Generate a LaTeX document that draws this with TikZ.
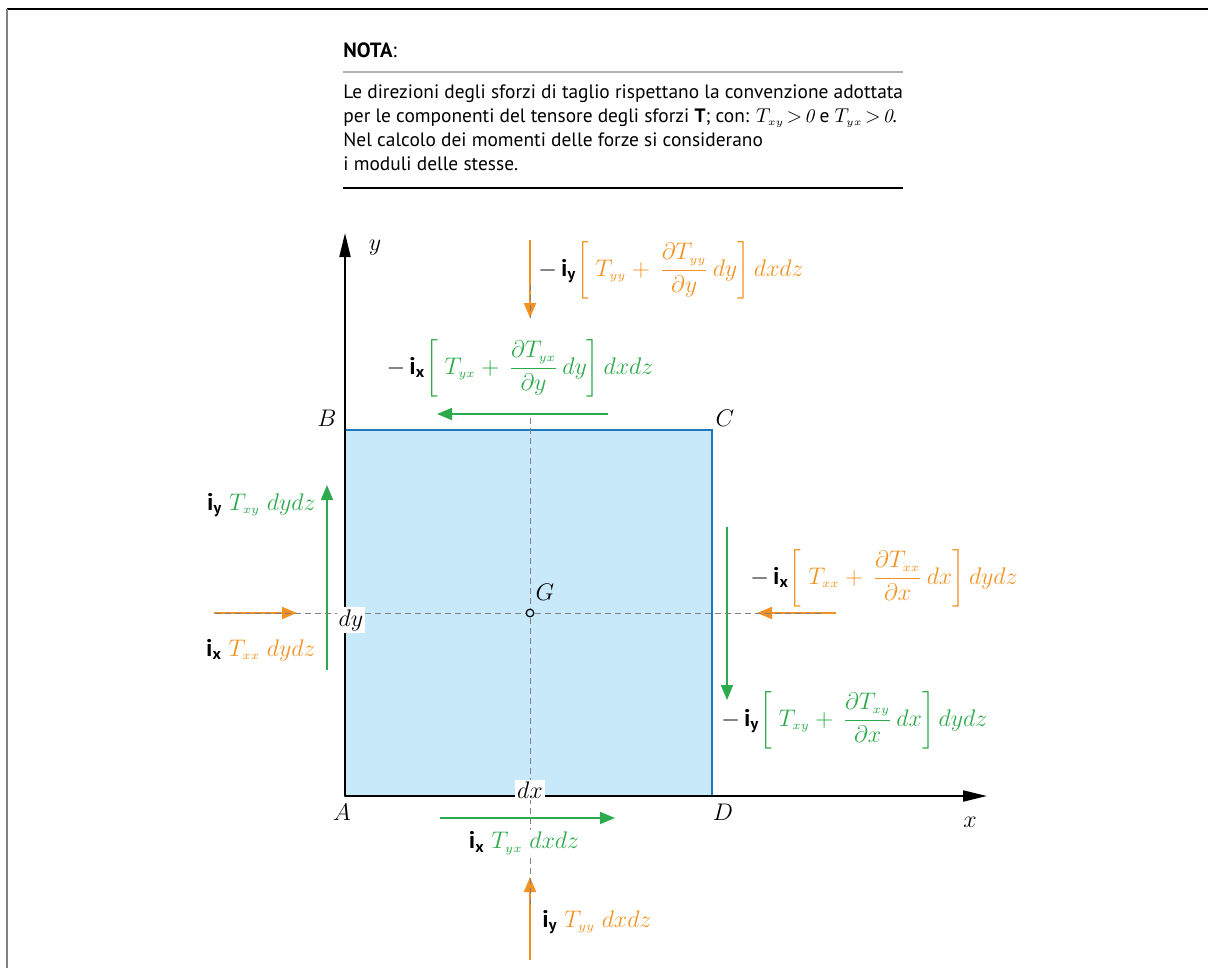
\documentclass[tikz,border=0pt]{standalone}
\usepackage{amsmath}
\usepackage{fontspec}
\setsansfont{PT Sans}
\usetikzlibrary{arrows.meta,positioning}
\definecolor{forzaor}{RGB}{243,146,34}
\definecolor{forzagr}{RGB}{45,170,75}
\definecolor{cubo}{RGB}{199,233,249}
\definecolor{bordo}{RGB}{30,120,190}
\newcommand{\vers}[1]{\textsf{\textbf{i}}_{\textsf{\textbf{#1}}}}
\newcommand{\Tc}[1]{T_{\scriptscriptstyle #1}}
\tikzset{frecciaor/.style={-{Triangle[length=7.5pt,width=6pt]},line width=0.9pt,draw=forzaor},
 frecciagr/.style={-{Triangle[length=7.5pt,width=6pt]},line width=0.9pt,draw=forzagr},
 asse/.style={-{Triangle[length=12pt,width=5.5pt]},line width=1pt},
 mezzeria/.style={draw=gray,dash pattern=on 3pt off 2pt,line width=0.5pt},
 etich/.style={font=\fontsize{12}{15}\selectfont,inner sep=1pt},
 coperta/.style={etich,fill=white},
 punto/.style={font=\fontsize{12}{15}\selectfont,inner sep=1pt},
 nota/.style={font=\sffamily\fontsize{9.7}{12}\selectfont,align=left,inner sep=0pt}}

\begin{document}
\begin{tikzpicture}[x=0.5pt,y=-0.5pt]
\useasboundingbox (0,0) rectangle (1208,968);
\draw[line width=0.9pt] (7,9) -- (1208,9);
\draw[gray,line width=1.1pt] (7,9) -- (7,968);

% nota
\node[nota,anchor=south west,font=\sffamily\fontsize{10.3}{12}\selectfont] (titolo) at (343,58) {\textbf{NOTA}:};
\draw[gray!60,line width=0.7pt] (343,72) -- (903,72);
\node[nota,anchor=north west] (testo) at (343,84) {Le direzioni degli sforzi di taglio rispettano la convenzione adottata\\
per le componenti del tensore degli sforzi \textbf{T}; con: $\Tc{xy}\!>\!\mathit{0}$ e $\Tc{yx}\!>\!\mathit{0}$.\\
Nel calcolo dei momenti delle forze si considerano\\
i moduli delle stesse.};
\draw[line width=1.1pt] (343,188) -- (903,188);

% elemento
\coordinate (A) at (345,796);
\coordinate (B) at (345,430);
\coordinate (C) at (712,430);
\coordinate (D) at (712,796);
\coordinate (G) at (530,613);
\coordinate (ytip) at (345,233);
\coordinate (xtip) at (987,796);
\fill[cubo] (A) rectangle (C);
\draw[bordo,line width=0.8pt] (A) rectangle (C);
\draw[asse] (A) -- (xtip);
\draw[asse] (A) -- (ytip);

% forze
\coordinate (n1) at (530,240);  \coordinate (n2) at (530,318);
\coordinate (t1) at (608,414);  \coordinate (t2) at (437,414);
\coordinate (s1) at (327,670);  \coordinate (s2) at (327,485);
\coordinate (o1) at (214,613);  \coordinate (o2) at (297,613);
\coordinate (r1) at (727,527);  \coordinate (r2) at (727,700);
\coordinate (e1) at (836,613);  \coordinate (e2) at (757,613);
\coordinate (b1) at (440,818);  \coordinate (b2) at (615,818);
\coordinate (u1) at (530,960);  \coordinate (u2) at (530,877);
\draw[frecciaor] (n1) -- (n2);
\draw[frecciagr] (t1) -- (t2);
\draw[frecciagr] (s1) -- (s2);
\draw[frecciaor] (o1) -- (o2);
\draw[frecciagr] (r1) -- (r2);
\draw[frecciaor] (e1) -- (e2);
\draw[frecciagr] (b1) -- (b2);
\draw[frecciaor] (u1) -- (u2);

% mezzerie
\draw[mezzeria] (530,285) -- (530,318);
\draw[mezzeria] (530,418) -- (530,905);
\draw[mezzeria] (215,613) -- (825,613);
\draw[draw=black,fill=cubo,line width=0.6pt] (G) circle (3.8);

% etichette
\node[etich,anchor=west] (fn) at (536,270) {$-\,\vers{y}{\color{forzaor}\left[\;\Tc{yy}+\,\dfrac{\partial \Tc{yy}}{\partial y}\,dy\right]dxdz}$};
\node[coperta] (ft) at (520,368) {$-\,\vers{x}{\color{forzagr}\left[\;\Tc{yx}+\,\dfrac{\partial \Tc{yx}}{\partial y}\,dy\right]dxdz}$};
\node[etich,anchor=east] (fs) at (318,505) {$\vers{y}\;{\color{forzagr}\Tc{xy}\;dydz}$};
\node[etich,anchor=east] (fo) at (318,650) {$\vers{x}\;{\color{forzaor}\Tc{xx}\;dydz}$};
\node[etich,anchor=west] (fe) at (748,578) {$-\,\vers{x}{\color{forzaor}\left[\;\Tc{xx}+\,\dfrac{\partial \Tc{xx}}{\partial x}\,dx\right]dydz}$};
\node[etich,anchor=west] (fr) at (719,720) {$-\,\vers{y}{\color{forzagr}\left[\;\Tc{xy}+\,\dfrac{\partial \Tc{xy}}{\partial x}\,dx\right]dydz}$};
\node[coperta] (fb) at (524,843) {$\vers{x}\;{\color{forzagr}\Tc{yx}\;dxdz}$};
\node[etich,anchor=west] (fu) at (540,922) {$\vers{y}\;{\color{forzaor}\Tc{yy}\;dxdz}$};

\node[coperta] (ldy) at (351,620) {$dy$};
\node[coperta] (ldx) at (530,790) {$dx$};
\node[punto] (lA) at (342,812) {$A$};
\node[punto] (lB) at (327,418) {$B$};
\node[punto] (lC) at (725,418) {$C$};
\node[punto] (lD) at (723,812) {$D$};
\node[punto] (lG) at (545,592) {$G$};
\node[punto] (lx) at (970,822) {$x$};
\node[punto] (ly) at (375,248) {$y$};
\end{tikzpicture}
\end{document}
